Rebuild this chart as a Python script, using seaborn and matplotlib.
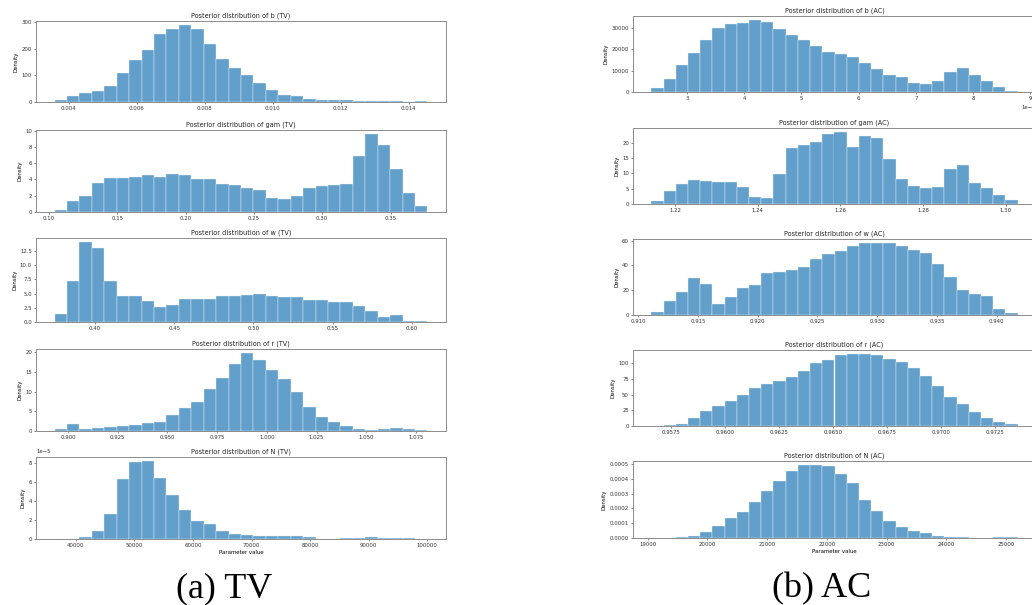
import numpy as np
import matplotlib
matplotlib.use("Agg")
import matplotlib.pyplot as plt
from matplotlib.ticker import MultipleLocator
import seaborn as sns

# ---------------- data (30-bin histograms, densities) ----------------
params = ["b", "gam", "w", "r", "N"]

# TV column
tv_ranges = [(0.00358, 0.01455), (0.104, 0.377), (0.3745, 0.6099), (0.8933, 1.0807), (36400, 100000)]
tv_b = [8, 22, 34, 42, 62, 108, 159, 197, 255, 275, 291, 275, 218, 164, 130,
        100, 70, 45, 27, 22, 12, 6, 7, 7, 5, 4, 5, 3, 1, 2]
tv_gam = [0.2, 1.3, 1.95, 3.6, 4.15, 4.15, 4.25, 4.5, 4.35, 4.65, 4.5, 4.1, 4.0, 3.4, 3.3,
          2.9, 2.65, 1.75, 1.6, 2.0, 3.0, 3.2, 3.35, 3.4, 6.9, 9.6, 8.2, 5.25, 2.3, 0.75]
tv_w = [1.4, 7.3, 14.1, 13.0, 7.2, 4.65, 4.5, 3.65, 2.6, 2.95, 4.05, 4.0, 4.1, 4.55, 4.6,
        4.8, 4.9, 4.65, 4.35, 4.35, 3.95, 3.8, 3.55, 3.55, 2.85, 1.9, 0.95, 1.2, 0.25, 0.2]
tv_r = [0.6, 1.8, 0.6, 0.8, 0.9, 1.15, 1.4, 2.1, 2.4, 4.0, 5.9, 7.4, 10.6, 13.5, 16.9,
        19.8, 18.0, 15.5, 13.1, 10.0, 6.0, 3.5, 2.25, 1.35, 0.5, 0.35, 0.6, 0.65, 0.5, 0.25]
tv_N = [0.0, 0.04e-5, 0.2e-5, 0.8e-5, 2.6e-5, 6.35e-5, 8.1e-5, 8.25e-5, 6.45e-5, 4.65e-5,
        3.05e-5, 1.95e-5, 1.55e-5, 0.85e-5, 0.5e-5, 0.38e-5, 0.3e-5, 0.3e-5, 0.28e-5, 0.35e-5,
        0.2e-5, 0.05e-5, 0.0, 0.13e-5, 0.13e-5, 0.17e-5, 0.13e-5, 0.13e-5, 0.1e-5, 0.04e-5]

# AC column
ac_ranges = [(2.375e-5, 8.78e-5), (1.2143, 1.3029), (0.91109, 0.94176), (0.95660, 0.97355), (19061, 25196)]
ac_b = [1900, 6000, 12700, 18100, 24300, 30000, 31500, 32300, 33700, 32500, 29500, 26400,
        24000, 21200, 18400, 17600, 16500, 13300, 10500, 8000, 6800, 4300, 3700, 5200, 9300,
        11100, 8000, 5200, 2300, 600]
ac_gam = [1.1, 4.3, 6.5, 8.0, 7.6, 7.35, 7.35, 5.5, 2.3, 1.85, 9.85, 18.5, 19.45, 20.3, 23.0,
          23.7, 18.8, 22.2, 21.5, 14.8, 8.3, 6.05, 5.4, 5.7, 11.55, 12.75, 7.0, 5.2, 3.0, 1.4]
ac_w = [2.7, 11.6, 18.8, 29.6, 25.0, 8.9, 14.5, 21.8, 24.2, 33.9, 35.0, 36.3, 38.7, 44.9, 49.0,
        51.7, 55.7, 58.4, 58.4, 58.4, 55.7, 52.7, 49.8, 41.4, 30.9, 20.4, 16.7, 15.1, 4.6, 1.3]
ac_r = [0.5, 1.0, 3.2, 12.3, 24, 32.6, 40, 49, 60.4, 67.4, 72.2, 78.6, 87.7, 100, 105.3,
        112.8, 115.5, 115, 113.9, 107, 102.7, 92.5, 79.7, 63.1, 47, 34.8, 22.5, 13.4, 6.4, 3.7]
ac_N = [0.000002, 0.000003, 0.000006, 0.000016, 0.000043, 0.000084, 0.000136, 0.000173,
        0.000241, 0.000316, 0.000384, 0.000455, 0.000495, 0.000491, 0.000486, 0.000432,
        0.000368, 0.000257, 0.000182, 0.000114, 0.000073, 0.000050, 0.000036, 0.000016,
        0.000009, 0.000007, 0.000002, 0.0, 0.000005, 0.000005]

tv_heights = [tv_b, tv_gam, tv_w, tv_r, tv_N]
ac_heights = [ac_b, ac_gam, ac_w, ac_r, ac_N]

tv_xstep = [0.002, 0.05, 0.05, 0.025, 10000]
tv_ystep = [100, 2, 2.5, 5, 2e-5]
ac_xstep = [1e-5, 0.02, 0.005, 0.0025, 1000]
ac_ystep = [10000, 5, 20, 25, 0.0001]

captions = ["(a) TV", "(b) AC"]
NBINS = 30

# ---------------- layout ----------------
W, H = 1032, 605
fig = plt.figure(figsize=(W / 100, H / 100), dpi=100)

left_x = (36, 446)
right_x = (633, 1036)
left_rows = [(21, 102), (130, 212), (238, 322), (349, 431), (457, 539)]
right_rows = [(16, 92), (128, 204), (239, 315), (350, 426), (461, 538)]

BAR = "#1f77b4"
SPINE = "#8c8c8c"
TICK_FS = 3.9
TITLE_FS = 4.7


def make_ax(xr, yr):
    return fig.add_axes([xr[0] / W, 1 - yr[1] / H, (xr[1] - xr[0]) / W, (yr[1] - yr[0]) / H])


def draw(ax, rng, heights, title, xstep, ystep, last):
    edges = np.linspace(rng[0], rng[1], NBINS + 1)
    centers = (edges[:-1] + edges[1:]) / 2
    sns.histplot(x=centers, weights=heights, bins=NBINS, binrange=rng, stat="count",
                 color=BAR, alpha=0.7, edgecolor="#e8f0f8", linewidth=0.3, ax=ax)
    ax.set_title(title, fontsize=TITLE_FS, pad=2.2, color="#222222")
    ax.set_ylabel("Density", fontsize=TICK_FS, labelpad=2)
    ax.set_xlabel("Parameter value" if last else "", fontsize=TICK_FS, labelpad=1.5)
    ax.xaxis.set_major_locator(MultipleLocator(xstep))
    ax.yaxis.set_major_locator(MultipleLocator(ystep))
    ax.tick_params(labelsize=TICK_FS, length=1.4, width=0.4, pad=1.5, colors="#333333")
    ax.xaxis.get_offset_text().set_fontsize(TICK_FS)
    ax.yaxis.get_offset_text().set_fontsize(TICK_FS)
    for s in ax.spines.values():
        s.set_color(SPINE)
        s.set_linewidth(0.7)
    ax.margins(x=0.05)
    ax.set_ylim(0, max(heights) * 1.05)


for i, p in enumerate(params):
    ax = make_ax(left_x, left_rows[i])
    draw(ax, tv_ranges[i], tv_heights[i], f"Posterior distribution of {p} (TV)",
         tv_xstep[i], tv_ystep[i], i == 4)
    ax2 = make_ax(right_x, right_rows[i])
    draw(ax2, ac_ranges[i], ac_heights[i], f"Posterior distribution of {p} (AC)",
         ac_xstep[i], ac_ystep[i], i == 4)

fig.text(224 / W, 1 - 589 / H, captions[0], family="Liberation Serif", fontsize=26,
         ha="center", va="center")
fig.text(822 / W, 1 - 589 / H, captions[1], family="Liberation Serif", fontsize=26,
         ha="center", va="center")

fig.savefig("out.png", dpi=100)
